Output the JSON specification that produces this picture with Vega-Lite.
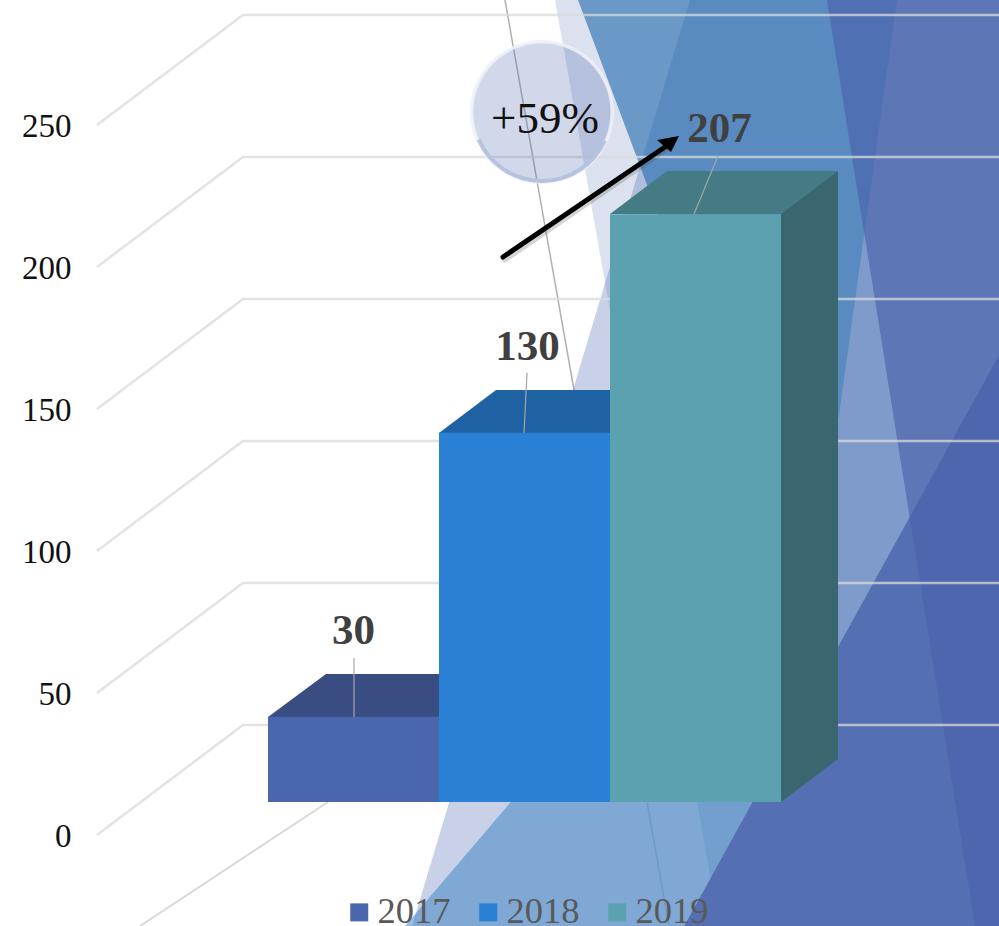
{
"$schema":"https://vega.github.io/schema/vega-lite/v6.json",
"width":999,"height":926,"padding":0,"autosize":{"type":"none"},"background":"white",
"config":{"view":{"stroke":null},"text":{"font":"Liberation Serif"}},
"datasets":{
"bars":[{"year":"2017","value":30},{"year":"2018","value":130},{"year":"2019","value":207}],
"grid":[
{"v":0,"i":0,"x":97,"level":0.35},{"v":0,"i":1,"x":243,"level":39.08},{"v":0,"i":2,"x":999,"level":39.08},
{"v":50,"i":0,"x":97,"level":50.35},{"v":50,"i":1,"x":243,"level":89.08},{"v":50,"i":2,"x":999,"level":89.08},
{"v":100,"i":0,"x":97,"level":100.35},{"v":100,"i":1,"x":243,"level":139.08},{"v":100,"i":2,"x":999,"level":139.08},
{"v":150,"i":0,"x":97,"level":150.35},{"v":150,"i":1,"x":243,"level":189.08},{"v":150,"i":2,"x":999,"level":189.08},
{"v":200,"i":0,"x":97,"level":200.35},{"v":200,"i":1,"x":243,"level":239.08},{"v":200,"i":2,"x":999,"level":239.08},
{"v":250,"i":0,"x":97,"level":250.35},{"v":250,"i":1,"x":243,"level":289.08},{"v":250,"i":2,"x":999,"level":289.08}
],
"shapes":[
{"s":"L1","i":0,"x":690,"y":0},{"s":"L1","i":1,"x":999,"y":0},{"s":"L1","i":2,"x":999,"y":926},{"s":"L1","i":3,"x":412,"y":926},
{"s":"L2","i":0,"x":555,"y":0},{"s":"L2","i":1,"x":999,"y":0},{"s":"L2","i":2,"x":999,"y":926},{"s":"L2","i":3,"x":719,"y":926},
{"s":"B","i":0,"x":578,"y":0},{"s":"B","i":1,"x":999,"y":0},{"s":"B","i":2,"x":999,"y":230},{"s":"B","i":3,"x":766,"y":503},
{"s":"D","i":0,"x":405,"y":926},{"s":"D","i":1,"x":766,"y":503},{"s":"D","i":2,"x":999,"y":230},{"s":"D","i":3,"x":999,"y":355},{"s":"D","i":4,"x":684,"y":926},
{"s":"H","i":0,"x":897,"y":0},{"s":"H","i":1,"x":999,"y":0},{"s":"H","i":2,"x":999,"y":355},{"s":"H","i":3,"x":796,"y":722},
{"s":"G","i":0,"x":999,"y":355},{"s":"G","i":1,"x":999,"y":926},{"s":"G","i":2,"x":684,"y":926},
{"s":"E","i":0,"x":827,"y":0},{"s":"E","i":1,"x":999,"y":0},{"s":"E","i":2,"x":999,"y":926},{"s":"E","i":3,"x":975,"y":926},
{"s":"top17","i":0,"x":268,"y":717},{"s":"top17","i":1,"x":439,"y":717},{"s":"top17","i":2,"x":496,"y":674},{"s":"top17","i":3,"x":326,"y":674},
{"s":"top18","i":0,"x":439,"y":433},{"s":"top18","i":1,"x":610,"y":433},{"s":"top18","i":2,"x":667,"y":390},{"s":"top18","i":3,"x":496,"y":390},
{"s":"top19","i":0,"x":610,"y":214},{"s":"top19","i":1,"x":781,"y":214},{"s":"top19","i":2,"x":838,"y":171},{"s":"top19","i":3,"x":667,"y":171},
{"s":"side19","i":0,"x":781,"y":214},{"s":"side19","i":1,"x":838,"y":171},{"s":"side19","i":2,"x":838,"y":759},{"s":"side19","i":3,"x":781,"y":802},
{"s":"head","i":0,"x":679,"y":136},{"s":"head","i":1,"x":657,"y":140},{"s":"head","i":2,"x":671,"y":152},
{"s":"long","i":0,"x":505,"y":0},{"s":"long","i":1,"x":574,"y":390},
{"s":"long2","i":0,"x":647,"y":802},{"s":"long2","i":1,"x":669,"y":926},
{"s":"floor","i":0,"x":140,"y":926},{"s":"floor","i":1,"x":328,"y":802},
{"s":"lead30","i":0,"x":354,"y":658},{"s":"lead30","i":1,"x":354,"y":717},
{"s":"lead130","i":0,"x":527,"y":373},{"s":"lead130","i":1,"x":524,"y":433},
{"s":"lead207","i":0,"x":718,"y":156},{"s":"lead207","i":1,"x":694,"y":214},
{"s":"arrowShadow","i":0,"x":505,"y":260},{"s":"arrowShadow","i":1,"x":667,"y":149},
{"s":"arrow","i":0,"x":503,"y":257},{"s":"arrow","i":1,"x":665,"y":147}
],
"bubble":[{"x":542,"y":112,"label":"+59%"}]
},
"resolve":{"scale":{"x":"independent","y":"independent"}},
"layer":[
{"data":{"name":"shapes"},
 "encoding":{"x":{"field":"x","type":"quantitative","scale":{"domain":[0,999]},"axis":null},"y":{"field":"y","type":"quantitative","scale":{"domain":[926,0]},"axis":null},"order":{"field":"i"}},
 "layer":[
 {"transform":[{"filter":"datum.s==='long'"}],"mark":{"type":"line","stroke":"#b0b0b0","strokeWidth":1.5}},
 {"transform":[{"filter":"datum.s==='floor'"}],"mark":{"type":"line","stroke":"#d9d9d9","strokeWidth":2}},
 {"transform":[{"filter":"datum.s==='L1'"}],"mark":{"type":"line","fill":"#4a67ae","fillOpacity":0.3,"strokeWidth":0}},
 {"transform":[{"filter":"datum.s==='L2'"}],"mark":{"type":"line","fill":"#4a67ae","fillOpacity":0.2,"strokeWidth":0}},
 {"transform":[{"filter":"datum.s==='B'"}],"mark":{"type":"line","fill":"#286eb0","fillOpacity":0.63,"strokeWidth":0}},
 {"transform":[{"filter":"datum.s==='D'"}],"mark":{"type":"line","fill":"#3681c2","fillOpacity":0.5,"strokeWidth":0}},
 {"transform":[{"filter":"datum.s==='long2'"}],"mark":{"type":"line","stroke":"#6e9ac8","strokeWidth":1.5}},
 {"transform":[{"filter":"datum.s==='H'"}],"mark":{"type":"line","fill":"#7f9bcb","strokeWidth":0}},
 {"transform":[{"filter":"datum.s==='G'"}],"mark":{"type":"line","fill":"#5470b2","strokeWidth":0}},
 {"transform":[{"filter":"datum.s==='E'"}],"mark":{"type":"line","fill":"#4861a9","fillOpacity":0.62,"strokeWidth":0}}
 ]},
{"data":{"name":"grid"},
 "mark":{"type":"line","stroke":"#d9d9d9","strokeWidth":2.5,"strokeOpacity":0.75},
 "encoding":{"x":{"field":"x","type":"quantitative","scale":{"domain":[0,999]},"axis":null},
  "y":{"field":"level","type":"quantitative","scale":{"domain":[-31.69,294.37]},
   "axis":{"values":[0,50,100,150,200,250],"title":null,"ticks":false,"domain":false,"grid":false,"labelAlign":"right","labelPadding":-71,"labelFont":"Liberation Serif","labelFontSize":33,"labelColor":"#111111","labelOverlap":false,"labelFlush":false}},
  "detail":{"field":"v"},"order":{"field":"i"}}},
{"data":{"name":"shapes"},
 "encoding":{"x":{"field":"x","type":"quantitative","scale":{"domain":[0,999]},"axis":null},"y":{"field":"y","type":"quantitative","scale":{"domain":[926,0]},"axis":null},"order":{"field":"i"}},
 "layer":[
 {"transform":[{"filter":"datum.s==='top17'"}],"mark":{"type":"line","fill":"#3a4d83","strokeWidth":0}},
 {"transform":[{"filter":"datum.s==='top18'"}],"mark":{"type":"line","fill":"#1f62a3","strokeWidth":0}},
 {"transform":[{"filter":"datum.s==='top19'"}],"mark":{"type":"line","fill":"#457b85","strokeWidth":0}},
 {"transform":[{"filter":"datum.s==='side19'"}],"mark":{"type":"line","fill":"#3a676f","strokeWidth":0}},
 {"transform":[{"filter":"datum.s==='lead30'"}],"mark":{"type":"line","stroke":"#a6a6a6","strokeWidth":1.2}},
 {"transform":[{"filter":"datum.s==='lead130'"}],"mark":{"type":"line","stroke":"#a6a6a6","strokeWidth":1.2}},
 {"transform":[{"filter":"datum.s==='lead207'"}],"mark":{"type":"line","stroke":"#a6a6a6","strokeWidth":1.2}}
 ]},
{"data":{"name":"bars"},
 "encoding":{"x":{"field":"year","type":"nominal","scale":{"range":[268,781],"paddingInner":0,"paddingOuter":0},"axis":null},
  "y":{"field":"value","type":"quantitative","scale":{"domain":[-43.66,282.4]},"axis":null}},
 "layer":[
 {"mark":{"type":"bar"},"encoding":{"y2":{"datum":0},
   "fill":{"field":"year","type":"nominal","scale":{"domain":["2017","2018","2019"],"range":["#4a67ae","#2980d5","#5ba1b0"]},
    "legend":{"orient":"none","legendX":341,"legendY":894,"direction":"horizontal","title":null,"symbolType":"square","symbolSize":324,"symbolStrokeWidth":0,"labelFont":"Liberation Serif","labelFontSize":36.5,"labelColor":"#595959","labelOffset":0,"columnPadding":19}}}},
 {"transform":[{"filter":"datum.year==='2017'"}],"mark":{"type":"text","baseline":"alphabetic","dy":-73,"dx":0,"fontWeight":"bold","fontSize":43,"font":"Liberation Serif","fill":"#404040"},"encoding":{"text":{"field":"value"}}},
 {"transform":[{"filter":"datum.year==='2018'"}],"mark":{"type":"text","baseline":"alphabetic","dy":-73,"dx":3,"fontWeight":"bold","fontSize":43,"font":"Liberation Serif","fill":"#404040"},"encoding":{"text":{"field":"value"}}},
 {"transform":[{"filter":"datum.year==='2019'"}],"mark":{"type":"text","baseline":"alphabetic","dy":-72,"dx":24,"fontWeight":"bold","fontSize":43,"font":"Liberation Serif","fill":"#404040"},"encoding":{"text":{"field":"value"}}}
 ]},
{"data":{"name":"bubble"},
 "encoding":{"x":{"field":"x","type":"quantitative","scale":{"domain":[0,999]},"axis":null},"y":{"field":"y","type":"quantitative","scale":{"domain":[926,0]},"axis":null}},
 "layer":[
 {"mark":{"type":"point","shape":"circle","filled":true,"size":19600,"fill":"#4a67ae","fillOpacity":0.255,"strokeWidth":0}},
 {"mark":{"type":"arc","radius":72,"radius2":68.5,"theta":0,"theta2":6.2832,"fill":"#eef1f8","fillOpacity":0.85}},
 {"mark":{"type":"arc","radius":71,"radius2":67,"theta":2.0,"theta2":4.3,"fill":"#b5c3e0"}},
 {"mark":{"type":"text","baseline":"alphabetic","dy":21,"dx":3,"fontSize":45,"font":"Liberation Serif","fill":"#111111"},"encoding":{"text":{"field":"label"}}}
 ]},
{"data":{"name":"shapes"},
 "encoding":{"x":{"field":"x","type":"quantitative","scale":{"domain":[0,999]},"axis":null},"y":{"field":"y","type":"quantitative","scale":{"domain":[926,0]},"axis":null},"order":{"field":"i"}},
 "layer":[
 {"transform":[{"filter":"datum.s==='arrowShadow'"}],"mark":{"type":"line","stroke":"#555555","strokeOpacity":0.25,"strokeWidth":5,"strokeCap":"round"}},
 {"transform":[{"filter":"datum.s==='arrow'"}],"mark":{"type":"line","stroke":"#000000","strokeWidth":5,"strokeCap":"round"}},
 {"transform":[{"filter":"datum.s==='head'"}],"mark":{"type":"line","fill":"#000000","strokeWidth":0}}
 ]}
]
}
